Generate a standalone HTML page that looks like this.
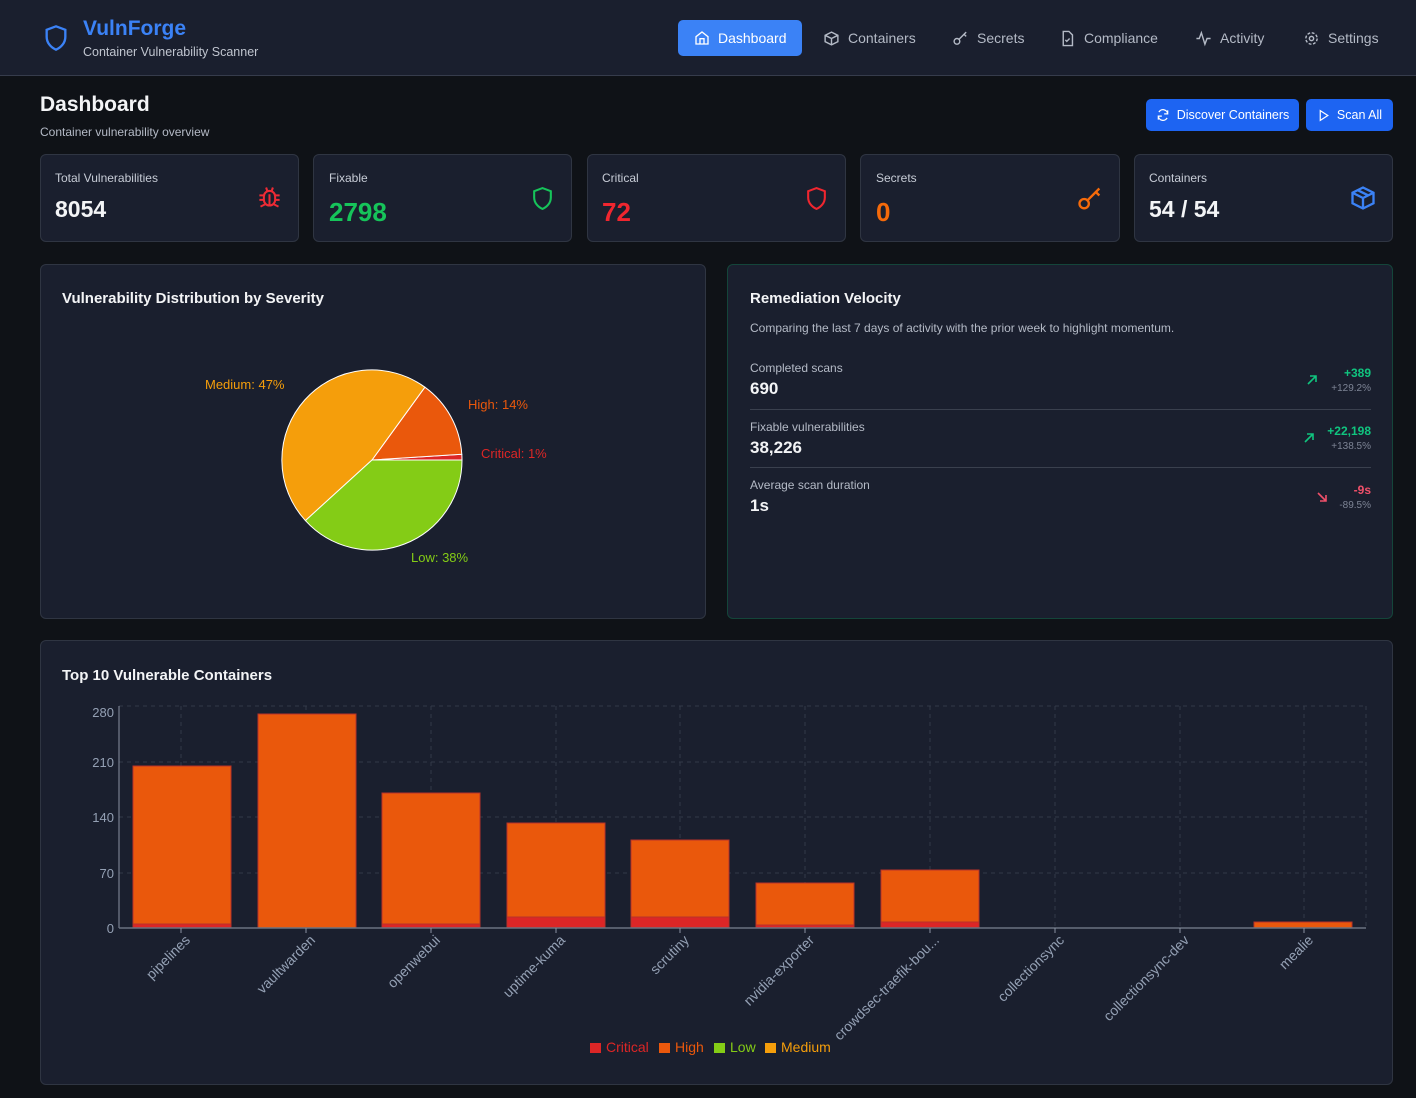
<!DOCTYPE html>
<html><head><meta charset="utf-8">
<style>
*{box-sizing:border-box;margin:0;padding:0}
body{width:1416px;height:1098px;background:#0f1217;font-family:"Liberation Sans",sans-serif;color:#e5e7eb;position:relative;overflow:hidden}
.a{position:absolute}
.card{position:absolute;background:#1a1f2e;border:1px solid #2f3542;border-radius:6px}
.nav{position:absolute;top:20px;height:36px;font-size:14px;color:#b4bac6;display:flex;align-items:center;gap:8px}
.lbl{font-size:12px;color:#c7ccd6}
.big{font-size:23px;font-weight:bold}
.t{font-size:12px;color:#b4bac6}
</style></head><body>
<div class="a" style="left:0;top:0;width:1416px;height:76px;background:#1a1f2e;border-bottom:1px solid #363c4c"></div>
<svg class="a" style="left:42px;top:22px" width="28" height="32" viewBox="0 0 24 24" fill="none" stroke="#3b82f6" stroke-width="2"><path d="M12 2 L20 5 V11 C20 16 16.5 20 12 22 C7.5 20 4 16 4 11 V5 Z"/></svg>
<div class="a" style="left:83px;top:17px;font-size:21px;font-weight:bold;color:#3b82f6">VulnForge</div>
<div class="a" style="left:83px;top:45px;font-size:12.5px;color:#c0c5cf">Container Vulnerability Scanner</div>
<div class="a" style="left:678px;top:20px;width:124px;height:36px;background:#3b82f6;border-radius:5px"></div>
<div class="nav" style="left:694px;color:#fff"><svg width="16" height="16" viewBox="0 0 24 24" fill="none" stroke="#fff" stroke-width="2"><path d="M3 10 L12 3 L21 10 V21 H3 Z M9 21 V13 H15 V21"/></svg>Dashboard</div>
<div class="nav" style="left:823px"><svg width="17" height="17" viewBox="0 0 24 24" fill="none" stroke="#b4bac6" stroke-width="2"><path d="M12 3 L21 7.5 V16.5 L12 21 L3 16.5 V7.5 Z M3 7.5 L12 12 L21 7.5 M12 12 V21"/></svg>Containers</div>
<div class="nav" style="left:952px"><svg width="17" height="17" viewBox="0 0 24 24" fill="none" stroke="#b4bac6" stroke-width="2"><circle cx="7" cy="16" r="4"/><path d="M10 13 L20 3 M17 6 L20 9"/></svg>Secrets</div>
<div class="nav" style="left:1059px"><svg width="17" height="17" viewBox="0 0 24 24" fill="none" stroke="#b4bac6" stroke-width="2"><path d="M6 2 H14 L19 7 V22 H6 Z M9 14 L11 16 L15 12"/></svg>Compliance</div>
<div class="nav" style="left:1195px"><svg width="17" height="17" viewBox="0 0 24 24" fill="none" stroke="#b4bac6" stroke-width="2"><path d="M2 12 H6 L9 4 L14 20 L17 12 H22"/></svg>Activity</div>
<div class="nav" style="left:1303px"><svg width="17" height="17" viewBox="0 0 24 24" fill="none" stroke="#b4bac6" stroke-width="2"><circle cx="12" cy="12" r="3"/><circle cx="12" cy="12" r="8" stroke-dasharray="4 2.3"/></svg>Settings</div>

<div class="a" style="left:40px;top:93px;font-size:21px;font-weight:bold;color:#f3f4f6">Dashboard</div>
<div class="a" style="left:40px;top:125px;font-size:12px;color:#b4bac6">Container vulnerability overview</div>
<div class="a" style="left:1146px;top:99px;width:153px;height:32px;background:#1d64f2;border-radius:5px;color:#fff;font-size:12.5px;display:flex;align-items:center;justify-content:center;gap:7px"><svg width="14" height="14" viewBox="0 0 24 24" fill="none" stroke="#fff" stroke-width="2.2"><path d="M20 10 A8 8 0 0 0 5 7 M4 14 A8 8 0 0 0 19 17 M20 4 V10 H14 M4 20 V14 H10"/></svg>Discover Containers</div>
<div class="a" style="left:1306px;top:99px;width:87px;height:32px;background:#1d64f2;border-radius:5px;color:#fff;font-size:12.5px;display:flex;align-items:center;justify-content:center;gap:7px"><svg width="13" height="13" viewBox="0 0 24 24" fill="none" stroke="#fff" stroke-width="2.2"><path d="M6 3 L20 12 L6 21 Z"/></svg>Scan All</div>

<div class="card" style="left:40px;top:154px;width:259px;height:88px"></div>
<div class="card" style="left:313px;top:154px;width:259px;height:88px"></div>
<div class="card" style="left:587px;top:154px;width:259px;height:88px"></div>
<div class="card" style="left:860px;top:154px;width:260px;height:88px"></div>
<div class="card" style="left:1134px;top:154px;width:259px;height:88px"></div>
<div class="a lbl" style="left:55px;top:171px">Total Vulnerabilities</div><div class="a big" style="left:55px;top:196px;color:#f3f4f6">8054</div>
<div class="a lbl" style="left:329px;top:171px">Fixable</div><div class="a big" style="left:329px;top:197px;color:#16c45a;font-size:26px">2798</div>
<div class="a lbl" style="left:602px;top:171px">Critical</div><div class="a big" style="left:602px;top:197px;color:#f0262f;font-size:26px">72</div>
<div class="a lbl" style="left:876px;top:171px">Secrets</div><div class="a big" style="left:876px;top:197px;color:#f56a0a;font-size:26px">0</div>
<div class="a lbl" style="left:1149px;top:171px">Containers</div><div class="a big" style="left:1149px;top:196px;color:#f3f4f6">54 / 54</div>
<svg class="a" style="left:256px;top:183px" width="27" height="27" viewBox="0 0 24 24" fill="none" stroke="#ef2b35" stroke-width="1.8"><rect x="7" y="7" width="10" height="13" rx="5"/><path d="M12 10 V20 M9 4 L10 7 M15 4 L14 7 M7 11 H3 M17 11 H21 M7 15 H3 M17 15 H21 M8 19 L4 21 M16 19 L20 21"/></svg>
<svg class="a" style="left:530px;top:185px" width="25" height="27" viewBox="0 0 24 24" fill="none" stroke="#16c45a" stroke-width="2"><path d="M12 2 L20 5 V11 C20 16 16.5 20 12 22 C7.5 20 4 16 4 11 V5 Z"/></svg>
<svg class="a" style="left:804px;top:185px" width="25" height="27" viewBox="0 0 24 24" fill="none" stroke="#f0262f" stroke-width="2"><path d="M12 2 L20 5 V11 C20 16 16.5 20 12 22 C7.5 20 4 16 4 11 V5 Z"/></svg>
<svg class="a" style="left:1076px;top:185px" width="28" height="28" viewBox="0 0 24 24" fill="none" stroke="#f56a0a" stroke-width="2"><circle cx="7" cy="16" r="4"/><path d="M10 13 L20 3 M17 6 L20 9"/></svg>
<svg class="a" style="left:1349px;top:184px" width="28" height="28" viewBox="0 0 24 24" fill="none" stroke="#3b82f6" stroke-width="2"><path d="M12 3 L21 7.5 V16.5 L12 21 L3 16.5 V7.5 Z M3 7.5 L12 12 L21 7.5 M12 12 V21 M7.5 5.3 L16.5 9.8"/></svg>

<div class="card" style="left:40px;top:264px;width:666px;height:355px"></div>
<div class="a" style="left:62px;top:290px;font-size:15px;font-weight:bold;color:#f3f4f6">Vulnerability Distribution by Severity</div>
<svg class="a" style="left:40px;top:264px" width="666" height="355">
<g transform="translate(-40,-264)" stroke="#fff" stroke-width="1" stroke-linejoin="round">
<path d="M372 460 L462 460 A90 90 0 0 0 461.8 454.3 Z" fill="#dc2626"/>
<path d="M372 460 L461.8 454.3 A90 90 0 0 0 424.9 387.2 Z" fill="#ea580c"/>
<path d="M372 460 L424.9 387.2 A90 90 0 0 0 305.4 520.6 Z" fill="#f59e0b"/>
<path d="M372 460 L305.4 520.6 A90 90 0 0 0 462 460 Z" fill="#84cc16"/>
</g>
<g font-size="13" transform="translate(-40,-264)">
<text x="205" y="389" fill="#f59e0b">Medium: 47%</text>
<text x="468" y="409" fill="#ea580c">High: 14%</text>
<text x="481" y="458" fill="#dc2626">Critical: 1%</text>
<text x="411" y="562" fill="#84cc16">Low: 38%</text>
</g></svg>

<div class="card" style="left:727px;top:264px;width:666px;height:355px;border-color:#14453a"></div>
<div class="a" style="left:750px;top:290px;font-size:15px;font-weight:bold;color:#f3f4f6">Remediation Velocity</div>
<div class="a t" style="left:750px;top:321px">Comparing the last 7 days of activity with the prior week to highlight momentum.</div>
<div class="a t" style="left:750px;top:361px">Completed scans</div><div class="a" style="left:750px;top:379px;font-size:17px;font-weight:bold;color:#f3f4f6">690</div>
<div class="a" style="left:750px;top:409px;width:621px;height:1px;background:#3a404e"></div>
<div class="a t" style="left:750px;top:420px">Fixable vulnerabilities</div><div class="a" style="left:750px;top:438px;font-size:17px;font-weight:bold;color:#f3f4f6">38,226</div>
<div class="a" style="left:750px;top:467px;width:621px;height:1px;background:#3a404e"></div>
<div class="a t" style="left:750px;top:478px">Average scan duration</div><div class="a" style="left:750px;top:496px;font-size:17px;font-weight:bold;color:#f3f4f6">1s</div>
<div class="a" style="right:45px;top:366px;font-size:12px;font-weight:bold;color:#10c47f;text-align:right">+389</div>
<div class="a" style="right:45px;top:383px;font-size:10px;color:#7d8495">+129.2%</div>
<div class="a" style="right:45px;top:424px;font-size:12px;font-weight:bold;color:#10c47f">+22,198</div>
<div class="a" style="right:45px;top:441px;font-size:10px;color:#7d8495">+138.5%</div>
<div class="a" style="right:45px;top:483px;font-size:12px;font-weight:bold;color:#f0506a">-9s</div>
<div class="a" style="right:45px;top:500px;font-size:10px;color:#7d8495">-89.5%</div>
<svg class="a" style="left:1306px;top:374px" width="12" height="12" viewBox="0 0 12 12" fill="none" stroke="#10c47f" stroke-width="1.6"><path d="M2 10 L10 2 M4 2 H10 V8"/></svg>
<svg class="a" style="left:1303px;top:432px" width="12" height="12" viewBox="0 0 12 12" fill="none" stroke="#10c47f" stroke-width="1.6"><path d="M2 10 L10 2 M4 2 H10 V8"/></svg>
<svg class="a" style="left:1316px;top:491px" width="12" height="12" viewBox="0 0 12 12" fill="none" stroke="#f0506a" stroke-width="1.6"><path d="M2 2 L10 10 M4 10 H10 V4"/></svg>

<div class="card" style="left:40px;top:640px;width:1353px;height:445px"></div>
<div class="a" style="left:62px;top:667px;font-size:15px;font-weight:bold;color:#f3f4f6">Top 10 Vulnerable Containers</div>
<svg class="a" style="left:0;top:0" width="1416" height="1098">
<g stroke="#333a48" stroke-dasharray="4 4" stroke-width="1">
<line x1="119" y1="706" x2="1366" y2="706"/><line x1="119" y1="762" x2="1366" y2="762"/><line x1="119" y1="817" x2="1366" y2="817"/><line x1="119" y1="873" x2="1366" y2="873"/>
<line x1="181" y1="706" x2="181" y2="928"/><line x1="306" y1="706" x2="306" y2="928"/><line x1="431" y1="706" x2="431" y2="928"/><line x1="556" y1="706" x2="556" y2="928"/><line x1="680" y1="706" x2="680" y2="928"/><line x1="805" y1="706" x2="805" y2="928"/><line x1="930" y1="706" x2="930" y2="928"/><line x1="1055" y1="706" x2="1055" y2="928"/><line x1="1180" y1="706" x2="1180" y2="928"/><line x1="1304" y1="706" x2="1304" y2="928"/><line x1="1366" y1="706" x2="1366" y2="928"/>
</g>
<g stroke="#b8322a" stroke-width="1">
<rect x="133" y="766" width="98" height="162" fill="#ea580c"/><rect x="133" y="924" width="98" height="4" fill="#dc2626"/>
<rect x="258" y="714" width="98" height="214" fill="#ea580c"/>
<rect x="382" y="793" width="98" height="135" fill="#ea580c"/><rect x="382" y="924" width="98" height="4" fill="#dc2626"/>
<rect x="507" y="823" width="98" height="105" fill="#ea580c"/><rect x="507" y="917" width="98" height="11" fill="#dc2626"/>
<rect x="631" y="840" width="98" height="88" fill="#ea580c"/><rect x="631" y="917" width="98" height="11" fill="#dc2626"/>
<rect x="756" y="883" width="98" height="45" fill="#ea580c"/><rect x="756" y="925" width="98" height="3" fill="#dc2626"/>
<rect x="881" y="870" width="98" height="58" fill="#ea580c"/><rect x="881" y="922" width="98" height="6" fill="#dc2626"/>
<rect x="1254" y="922" width="98" height="6" fill="#ea580c"/>
</g>
<line x1="119" y1="706" x2="119" y2="928" stroke="#8a92a3"/>
<line x1="119" y1="928" x2="1366" y2="928" stroke="#6b7280" stroke-width="1.5"/>
<g stroke="#8a92a3"><line x1="181" y1="928" x2="181" y2="933"/><line x1="306" y1="928" x2="306" y2="933"/><line x1="431" y1="928" x2="431" y2="933"/><line x1="556" y1="928" x2="556" y2="933"/><line x1="680" y1="928" x2="680" y2="933"/><line x1="805" y1="928" x2="805" y2="933"/><line x1="930" y1="928" x2="930" y2="933"/><line x1="1055" y1="928" x2="1055" y2="933"/><line x1="1180" y1="928" x2="1180" y2="933"/><line x1="1304" y1="928" x2="1304" y2="933"/></g>
<g font-size="13" fill="#94a0b4" text-anchor="end">
<text x="114" y="717">280</text><text x="114" y="767">210</text><text x="114" y="822">140</text><text x="114" y="878">70</text><text x="114" y="933">0</text>
</g>
<g font-size="14" fill="#94a0b4" text-anchor="end">
<text transform="translate(191,941) rotate(-45)">pipelines</text>
<text transform="translate(316,941) rotate(-45)">vaultwarden</text>
<text transform="translate(441,941) rotate(-45)">openwebui</text>
<text transform="translate(566,941) rotate(-45)">uptime-kuma</text>
<text transform="translate(690,941) rotate(-45)">scrutiny</text>
<text transform="translate(815,941) rotate(-45)">nvidia-exporter</text>
<text transform="translate(940,941) rotate(-45)">crowdsec-traefik-bou...</text>
<text transform="translate(1065,941) rotate(-45)">collectionsync</text>
<text transform="translate(1190,941) rotate(-45)">collectionsync-dev</text>
<text transform="translate(1314,941) rotate(-45)">mealie</text>
</g>
<g font-size="14">
<rect x="590" y="1043" width="11" height="10" fill="#dc2626"/><text x="606" y="1052" fill="#dc2626">Critical</text>
<rect x="659" y="1043" width="11" height="10" fill="#ea580c"/><text x="675" y="1052" fill="#ea580c">High</text>
<rect x="714" y="1043" width="11" height="10" fill="#84cc16"/><text x="730" y="1052" fill="#84cc16">Low</text>
<rect x="765" y="1043" width="11" height="10" fill="#f59e0b"/><text x="781" y="1052" fill="#f59e0b">Medium</text>
</g>
</svg>
</body></html>
